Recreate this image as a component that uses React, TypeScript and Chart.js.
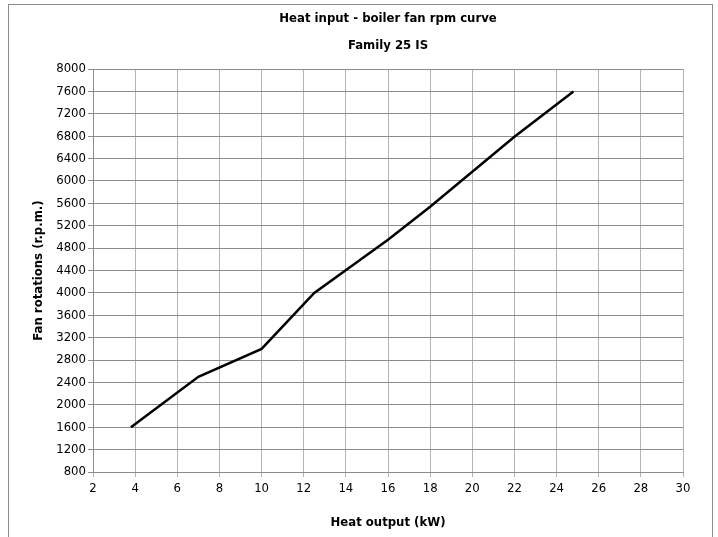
import React, { useEffect, useRef } from "react";
import { Chart, registerables } from "chart.js";

Chart.register(...registerables);

const titleLines = ["Heat input - boiler fan rpm curve", "Family 25 IS"];
const xAxisTitle = "Heat output (kW)";
const yAxisTitle = "Fan rotations (r.p.m.)";
const heatOutput = [3.8, 7, 10, 12.5, 16, 18, 22, 24.8];
const fanRpm = [1600, 2500, 3000, 4000, 4950, 5540, 6790, 7600];
const xMin = 2, xMax = 30, xStep = 2;
const yMin = 800, yMax = 8000, yStep = 400;

const FONT = "'DejaVu Sans Condensed', 'Liberation Sans', sans-serif";

export default function App() {
  const ref = useRef<HTMLCanvasElement | null>(null);
  useEffect(() => {
    if (!ref.current) return;
    const chart = new Chart(ref.current, {
      type: "line",
      data: {
        datasets: [
          {
            data: heatOutput.map((x, i) => ({ x, y: fanRpm[i] })),
            borderColor: "#000000",
            borderWidth: 2.5,
            pointRadius: 0,
            tension: 0,
            fill: false,
          },
        ],
      },
      options: {
        responsive: false,
        animation: false,
        layout: { padding: { left: 0, right: 35, top: 0, bottom: 0 } },
        plugins: {
          legend: { display: false },
          tooltip: { enabled: false },
          title: {
            display: true,
            fullSize: false,
            text: titleLines,
            color: "#000",
            font: { family: FONT, size: 13, weight: "bold", lineHeight: "27px" },
            padding: { top: 5, bottom: 10 },
          },
        },
        scales: {
          x: {
            type: "linear",
            min: xMin,
            max: xMax,
            ticks: {
              stepSize: xStep,
              color: "#000",
              font: { family: FONT, size: 13 },
              padding: 4,
              maxRotation: 0,
              callback: (v: any) => String(v),
            },
            grid: { color: "#b4b4b4", tickLength: 5, lineWidth: 1 },
            border: { color: "#8c8c8c" },
            title: {
              display: true,
              text: xAxisTitle,
              color: "#000",
              font: { family: FONT, size: 13, weight: "bold" },
              padding: { top: 0, bottom: 7 },
            },
            afterFit: (s: any) => {
              s.height = 65;
            },
          },
          y: {
            type: "linear",
            min: yMin,
            max: yMax,
            ticks: {
              stepSize: yStep,
              color: "#000",
              font: { family: FONT, size: 13 },
              padding: 2,
              callback: (v: any) => String(v),
            },
            grid: { color: "#8c8c8c", tickLength: 5, lineWidth: 1 },
            border: { color: "#8c8c8c" },
            title: {
              display: true,
              text: yAxisTitle,
              color: "#000",
              font: { family: FONT, size: 13, weight: "bold" },
              padding: { top: 31, bottom: 0 },
            },
            afterFit: (s: any) => {
              s.width = 93;
            },
          },
        },
      },
    });
    return () => chart.destroy();
  }, []);
  return (
    <div style={{ position: "absolute", left: 0, top: 0, width: 718, height: 537, background: "#fff", overflow: "hidden" }}>
      <canvas ref={ref} width={718} height={537} style={{ position: "absolute", left: 0, top: 0 }} />
      <div
        style={{
          position: "absolute",
          left: 8,
          top: 4,
          width: 703,
          height: 560,
          border: "1px solid #8c8c8c",
          pointerEvents: "none",
        }}
      />
    </div>
  );
}
